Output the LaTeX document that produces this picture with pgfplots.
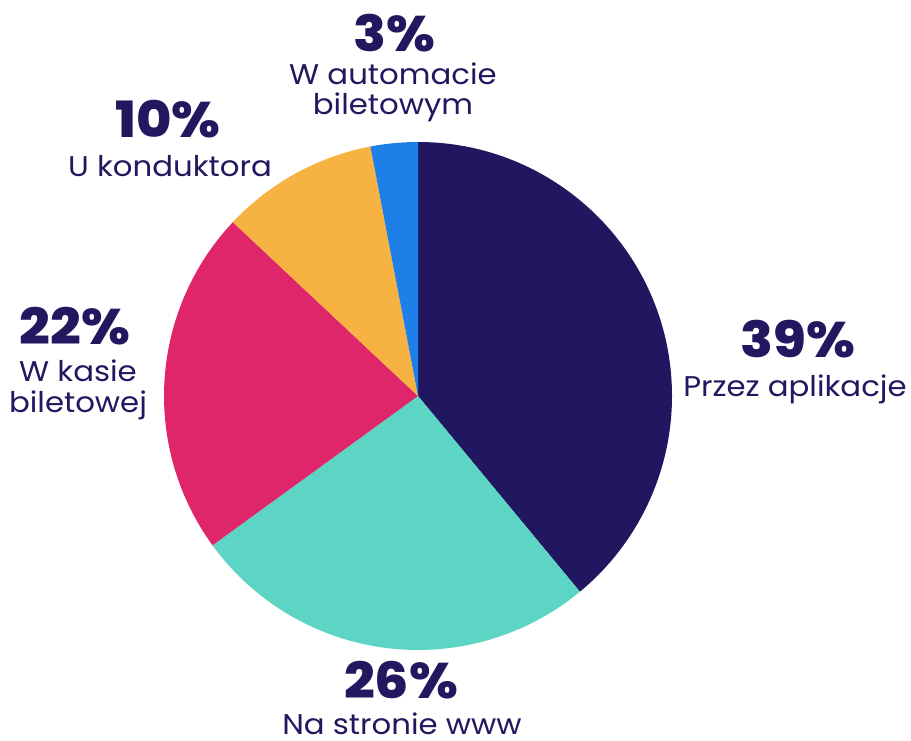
\documentclass[border=0pt]{standalone}
\usepackage{fontspec}
\setmainfont{Poppins}[FakeStretch=1.08, BoldFont={Poppins ExtraBold}]
\usepackage{pgfplots}
\usepackage{pgfplotstable}
\pgfplotsset{compat=1.18}
\definecolor{cNavy}{HTML}{211761}
\definecolor{cTeal}{HTML}{5DD5C4}
\definecolor{cPink}{HTML}{E0266A}
\definecolor{cOrange}{HTML}{F6B342}
\definecolor{cBlue}{HTML}{1E7FE8}
\definecolor{cText}{HTML}{21185F}
\pgfplotstableread{
value col
39 cNavy
26 cTeal
22 cPink
10 cOrange
3 cBlue
}\piedata
\newcommand\pct{\fontsize{50}{50}\selectfont\bfseries}
\newcommand\lbl{\fontsize{28.5}{31}\selectfont}
\begin{document}
\begin{tikzpicture}
\useasboundingbox (0,0) rectangle (911pt,740pt);
\begin{axis}[
  at={(0,0)}, anchor=origin,
  x=1pt, y=1pt, xmin=0, xmax=911, ymin=0, ymax=740,
  hide axis, clip=false,
]
\pgfplotstablegetrowsof{\piedata}
\pgfmathtruncatemacro\nrows{\pgfplotsretval-1}
\def\cum{0}
\pgfplotsforeachungrouped \i in {0,...,\nrows}{
  \pgfplotstablegetelem{\i}{value}\of\piedata \let\sv\pgfplotsretval
  \pgfplotstablegetelem{\i}{col}\of\piedata \let\scol\pgfplotsretval
  \pgfmathsetmacro\sa{90-\cum*3.6}
  \pgfmathsetmacro\ea{90-(\cum+\sv)*3.6}
  \edef\temp{\noexpand\fill[\scol] (axis cs:418,344) -- ([shift={(\sa:254pt)}]axis cs:418,344) arc[start angle=\sa, end angle=\ea, radius=254pt] -- cycle;}
  \temp
  \pgfmathsetmacro\cum{\cum+\sv}
}
\begin{scope}[every node/.style={anchor=base, text=cText, inner sep=0pt}]
\node[font=\pct] at (axis cs:798,382) {39\%};
\node[font=\lbl] at (axis cs:795,343) {Przez aplikacje};
\node[font=\pct] at (axis cs:401,42) {26\%};
\node[font=\lbl] at (axis cs:402,6) {Na stronie www};
\node[font=\pct] at (axis cs:75,395) {22\%};
\node[font=\lbl] at (axis cs:78,358) {W kasie};
\node[font=\lbl] at (axis cs:78,327) {biletowej};
\node[font=\pct] at (axis cs:168,602) {10\%};
\node[font=\lbl] at (axis cs:170,563) {U konduktora};
\node[font=\pct] at (axis cs:394,688) {3\%};
\node[font=\lbl] at (axis cs:393,655) {W automacie};
\node[font=\lbl] at (axis cs:393,625) {biletowym};
\end{scope}
\end{axis}
\end{tikzpicture}
\end{document}
